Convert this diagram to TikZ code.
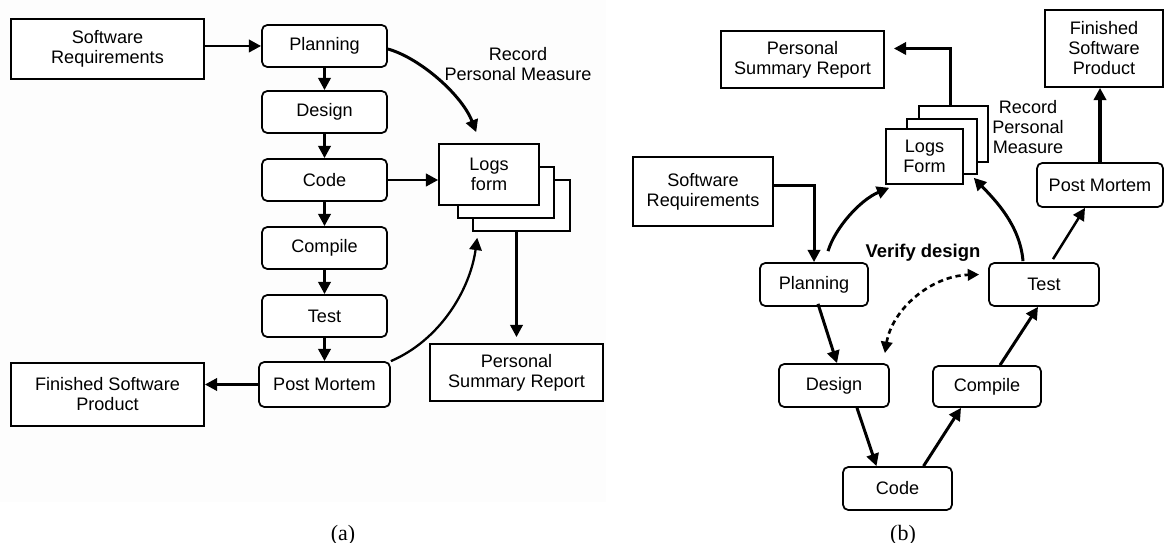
\documentclass[tikz,border=0pt]{standalone}
\usepackage{fontspec}
\usetikzlibrary{arrows.meta,calc}
\newfontfamily\diagsans{Liberation Sans}
\newfontfamily\diagserif{Liberation Serif}
\newcommand\diagfont{\diagsans\fontsize{10.3}{11.4}\selectfont}
\newcommand\capfont{\diagserif\fontsize{12.5}{14}\selectfont}
\tikzset{
  stepbox/.style={draw, rounded corners=3pt, line width=1pt, fill=white,
    align=center, inner sep=0pt, font=\diagfont},
  plainbox/.style={draw, line width=1pt, fill=white, align=center,
    inner sep=0pt, font=\diagfont},
  sheet/.style={draw, line width=0.9pt, fill=white, align=center,
    inner sep=0pt, font=\diagfont},
  tag/.style={align=center, inner sep=0pt, font=\diagfont},
  flow/.style={line width=1.7pt, -{Triangle[length=7pt,width=7pt]}},
  thinflow/.style={line width=1.2pt, -{Triangle[length=7pt,width=7pt]}},
  loop/.style={line width=1.5pt, dash pattern=on 3pt off 2.2pt,
    {Triangle[length=6.5pt,width=6.5pt]}-{Triangle[length=6.5pt,width=6.5pt]}},
}
\begin{document}
\begin{tikzpicture}[x=0.02cm, y=-0.02cm]
  \useasboundingbox (0,0) rectangle (1165,543);
  % faint panel tint behind the linear process
  \fill[gray!1.5] (0,0) rectangle (606,502);

  % ---------------- (a) linear process ----------------
  \node[plainbox, minimum width=3.86cm, minimum height=1.2cm] (sra) at (107.5,49) {Software\\Requirements};
  \node[stepbox, minimum width=2.5cm, minimum height=0.84cm] (pla) at (324.5,46) {Planning};
  \node[stepbox, minimum width=2.5cm, minimum height=0.84cm] (dea) at (324.5,112) {Design};
  \node[stepbox, minimum width=2.5cm, minimum height=0.84cm] (coa) at (324.5,180) {Code};
  \node[stepbox, minimum width=2.5cm, minimum height=0.84cm] (cma) at (324.5,248) {Compile};
  \node[stepbox, minimum width=2.5cm, minimum height=0.84cm] (tea) at (324.5,316) {Test};
  \node[stepbox, minimum width=2.62cm, minimum height=0.9cm] (pma) at (324.5,384.5) {Post Mortem};
  \node[plainbox, minimum width=3.86cm, minimum height=1.26cm] (fsa) at (107.5,394.5) {Finished Software\\Product};

  \node[sheet, minimum width=1.94cm, minimum height=1.02cm] (lga3) at (521.5,205.5) {};
  \node[sheet, minimum width=1.92cm, minimum height=1.02cm] (lga2) at (506,192.5) {};
  \node[sheet, minimum width=2cm, minimum height=1.22cm] (lga1) at (489,174.5) {Logs\\form};
  \node[tag] (rca) at (518,64) {Record\\Personal Measure};
  \node[plainbox, minimum width=3.46cm, minimum height=1.14cm] (psa) at (516.5,372.5) {Personal\\Summary Report};

  \draw[flow] (sra.east |- pla.west) -- (pla.west);
  \draw[flow] (pla) -- (dea);
  \draw[flow] (dea) -- (coa);
  \draw[flow] (coa) -- (cma);
  \draw[flow] (cma) -- (tea);
  \draw[flow] (tea) -- (pma);
  \draw[flow] (pma.west) -- (pma.west -| fsa.east);
  \draw[flow] (coa.east) -- (coa.east -| lga1.west);
  \draw[flow] ($(pla.east)+(0,3)$) .. controls (420,58) and (462,95) .. ($(lga1.north west)+(38,-11)$);
  \draw[thinflow, line width=1.3pt] (pma.north east) .. controls (440,340) and (470,290) .. ($(lga3.south west)+(5,6)$);
  \draw[flow] (psa.north |- lga3.south) -- ($(psa.north)+(0,-6)$);

  \node[font=\capfont, anchor=base] (capa) at (343,540) {(a)};

  % ---------------- (b) cyclic process ----------------
  \node[plainbox, minimum width=3.26cm, minimum height=1.14cm] (psb) at (802.5,59.5) {Personal\\Summary Report};
  \node[plainbox, minimum width=2.8cm, minimum height=1.38cm] (srb) at (703,191.5) {Software\\Requirements};
  \node[stepbox, minimum width=2.16cm, minimum height=0.86cm] (plb) at (814,284.5) {Planning};
  \node[stepbox, minimum width=2.2cm, minimum height=0.86cm] (deb) at (834,385.5) {Design};
  \node[stepbox, minimum width=2.18cm, minimum height=0.86cm] (cob) at (897.5,488.5) {Code};
  \node[stepbox, minimum width=2.16cm, minimum height=0.82cm] (cmb) at (987,386.5) {Compile};
  \node[stepbox, minimum width=2.2cm, minimum height=0.86cm] (teb) at (1044,284.5) {Test};
  \node[stepbox, minimum width=2.52cm, minimum height=0.88cm] (pmb) at (1100,185) {Post Mortem};
  \node[plainbox, minimum width=2.36cm, minimum height=1.54cm] (fsb) at (1104,48.5) {Finished\\Software\\Product};

  \node[sheet, minimum width=1.38cm, minimum height=1.12cm] (lgb3) at (953.5,134) {};
  \node[sheet, minimum width=1.4cm, minimum height=1.1cm] (lgb2) at (942,146.5) {};
  \node[sheet, minimum width=1.54cm, minimum height=1.1cm] (lgb1) at (924.5,156.5) {Logs\\Form};
  \node[tag] (rcb) at (1028,127) {Record\\Personal\\Measure};
  \node[tag, font=\diagsans\bfseries\fontsize{10.5}{12}\selectfont] (vfy) at (923,253) {Verify design};

  \draw[flow] ($(srb.east)+(0,-6)$) -| (plb.north);
  \draw[flow] (lgb3.north -| 950,0) |- ($(psb.east)+(9,-11)$);
  \draw[flow] ($(plb.north)+(14,-11)$) .. controls (835,228) and (860,200) .. ($(lgb1.south west)+(4,3)$);
  \draw[flow] ($(teb.north)+(-21,-1)$) .. controls (1020,225) and (995,200) .. ($(lgb1.south east)+(10,-7)$);
  \draw[thinflow, line width=1.4pt] ($(teb.north)+(9,-3)$) -- ($(pmb.south)+(-15,0)$);
  \draw[flow, line width=2.3pt] (pmb.north) -- (pmb.north |- fsb.south);
  \draw[flow] ($(plb.south)+(4,-3)$) -- ($(deb.north)+(3,0)$);
  \draw[flow] ($(deb.south)+(23,0)$) -- ($(cob.north)+(-21,0)$);
  \draw[flow] ($(cob.north)+(26,0)$) -- ($(cmb.south)+(-26,0)$);
  \draw[flow] ($(cmb.north)+(13,0)$) -- ($(teb.south)+(-6,0)$);
  \draw[loop] ($(deb.north east)+(-5,-10)$) .. controls (892,310) and (930,276) .. ($(teb.west)+(-9,-10)$);

  \node[font=\capfont, anchor=base] (capb) at (903,540) {(b)};
\end{tikzpicture}
\end{document}
